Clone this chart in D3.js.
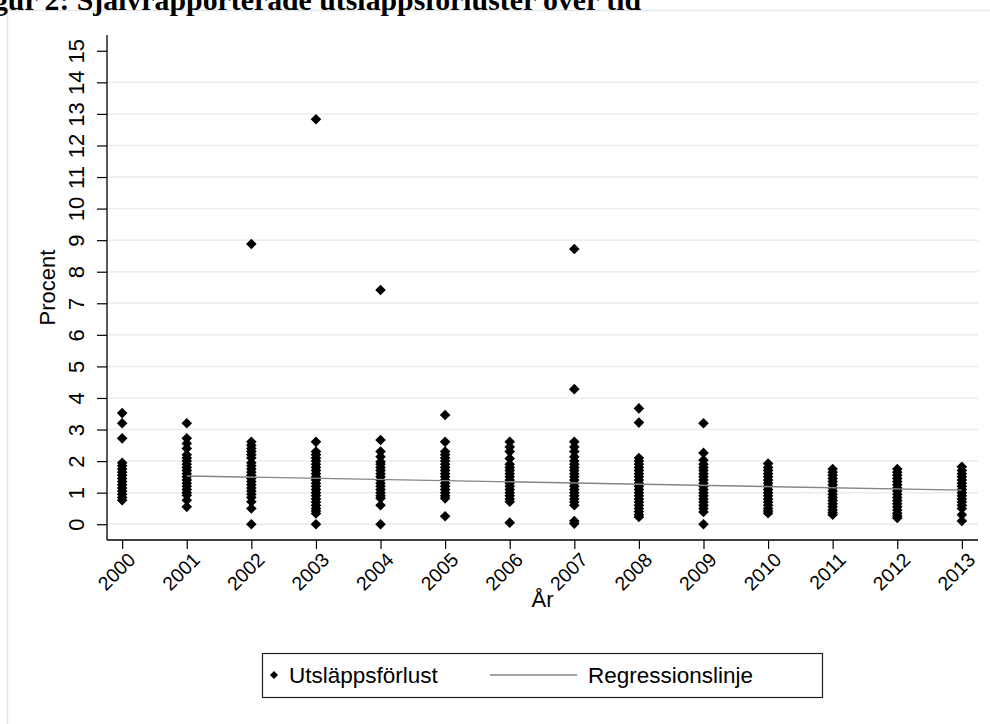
<!DOCTYPE html>
<html lang="sv">
<head>
<meta charset="UTF-8">
<title>Självrapporterade utsläppsförluster över tid</title>
<script src="https://d3js.org/d3.v7.min.js"></script>
<style>
  body { margin: 0; background: #fff; }
  svg { display: block; }
  text { font-family: "Liberation Sans", Arial, sans-serif; fill: #000; }
  .title { font-family: "Liberation Serif", "Times New Roman", serif; font-weight: bold; }
</style>
</head>
<body>
<div id="chart"></div>
<script>
  // values (percent), one list per year
  const years = [2000, 2001, 2002, 2003, 2004, 2005, 2006, 2007, 2008, 2009, 2010, 2011, 2012, 2013];
  const y2000 = [3.52, 3.2, 2.72, 1.95, 1.85, 1.75, 1.65, 1.55, 1.45, 1.35, 1.25, 1.15, 1.05, 0.95, 0.85, 0.76];
  const y2001 = [3.2, 2.72, 2.56, 2.4, 2.2, 2.1, 2.0, 1.9, 1.8, 1.7, 1.6, 1.5, 1.4, 1.3, 1.2, 1.1, 1.0, 0.92, 0.76, 0.55];
  const y2002 = [8.88, 2.61, 2.5, 2.4, 2.3, 2.2, 2.1, 1.95, 1.85, 1.75, 1.65, 1.55, 1.45, 1.35, 1.25, 1.15, 1.05, 0.95, 0.85, 0.71, 0.5, 0.0];
  const y2003 = [12.83, 2.61, 2.3, 2.2, 2.1, 2.0, 1.9, 1.8, 1.7, 1.6, 1.5, 1.4, 1.3, 1.2, 1.1, 1.0, 0.9, 0.8, 0.7, 0.6, 0.5, 0.42, 0.34, 0.0];
  const y2004 = [7.42, 2.67, 2.3, 2.14, 1.98, 1.9, 1.8, 1.7, 1.6, 1.5, 1.4, 1.3, 1.2, 1.1, 1.0, 0.9, 0.82, 0.6, 0.0];
  const y2005 = [3.46, 2.61, 2.3, 2.2, 2.1, 2.0, 1.9, 1.8, 1.7, 1.6, 1.5, 1.4, 1.3, 1.2, 1.1, 1.0, 0.9, 0.82, 0.25];
  const y2006 = [2.61, 2.45, 2.3, 2.08, 1.9, 1.8, 1.7, 1.6, 1.5, 1.4, 1.3, 1.2, 1.1, 1.0, 0.9, 0.8, 0.71, 0.05];
  const y2007 = [8.72, 4.28, 2.61, 2.45, 2.3, 2.14, 2.0, 1.9, 1.8, 1.7, 1.6, 1.5, 1.4, 1.3, 1.2, 1.1, 1.0, 0.9, 0.8, 0.7, 0.6, 0.1, 0.02];
  const y2008 = [3.67, 3.22, 2.1, 2.0, 1.9, 1.8, 1.7, 1.6, 1.5, 1.4, 1.3, 1.2, 1.1, 1.0, 0.9, 0.8, 0.7, 0.6, 0.5, 0.4, 0.3, 0.23];
  const y2009 = [3.2, 2.26, 2.03, 1.9, 1.8, 1.7, 1.6, 1.5, 1.4, 1.3, 1.2, 1.1, 1.0, 0.9, 0.8, 0.7, 0.6, 0.5, 0.39, 0.0];
  const y2010 = [1.92, 1.8, 1.7, 1.6, 1.5, 1.4, 1.3, 1.2, 1.1, 1.0, 0.9, 0.8, 0.7, 0.6, 0.5, 0.42, 0.35];
  const y2011 = [1.75, 1.65, 1.55, 1.45, 1.35, 1.25, 1.15, 1.05, 0.95, 0.85, 0.75, 0.65, 0.55, 0.45, 0.37, 0.3];
  const y2012 = [1.75, 1.65, 1.55, 1.45, 1.35, 1.25, 1.15, 1.05, 0.95, 0.85, 0.75, 0.65, 0.55, 0.45, 0.35, 0.27, 0.2];
  const y2013 = [1.82, 1.7, 1.6, 1.5, 1.4, 1.3, 1.2, 1.1, 1.0, 0.9, 0.8, 0.7, 0.6, 0.5, 0.3, 0.1];
  const perYear = [y2000, y2001, y2002, y2003, y2004, y2005, y2006, y2007, y2008, y2009, y2010, y2011, y2012, y2013];

  // fitted regression line (ends)
  const fitYears = [2001, 2013];
  const fitValues = [1.53, 1.08];

  const yTicks = d3.range(0, 16);
  const legendLabels = ["Utsläppsförlust", "Regressionslinje"];

  const points = [];
  years.forEach((yr, i) => perYear[i].forEach(v => points.push({ year: yr, value: v })));

  const width = 990, height = 724;
  const svg = d3.select("#chart").append("svg")
      .attr("width", width)
      .attr("height", height);

  // page edge of the document the chart was pasted into
  svg.append("line").attr("x1", 8).attr("x2", width).attr("y1", 10.5).attr("y2", 10.5)
      .attr("stroke", "#dfe7eb").attr("stroke-width", 1.5);
  svg.append("line").attr("x1", 7.5).attr("x2", 7.5).attr("y1", 10).attr("y2", height)
      .attr("stroke", "#dfe7eb").attr("stroke-width", 1.5);

  // heading, cut off at the top like in the source
  svg.append("text")
      .attr("class", "title")
      .attr("x", 641)
      .attr("y", 10)
      .attr("text-anchor", "end")
      .style("font-size", "29.8px")
      .text("Figur 2: Självrapporterade utsläppsförluster över tid");

  const pLeft = 107, pRight = 978, pTop = 35, pBottom = 540;

  const x = d3.scaleLinear().domain([1999.765, 2013.25]).range([pLeft, pRight]);
  const y = d3.scaleLinear().domain([-0.5, 15.5]).range([pBottom, pTop]);

  // grid
  svg.append("g")
    .selectAll("line")
    .data(yTicks.filter(t => t < 15))
    .join("line")
      .attr("x1", pLeft).attr("x2", pRight)
      .attr("y1", d => y(d)).attr("y2", d => y(d))
      .attr("stroke", "#e6eef2")
      .attr("stroke-width", 1.5);

  // y axis
  const yAxis = svg.append("g")
      .attr("transform", `translate(${pLeft},0)`)
      .call(d3.axisLeft(y).tickValues(yTicks).tickSize(10).tickFormat(d3.format("d")));
  yAxis.select(".domain").attr("d", `M0,${pTop}V${pBottom}`).attr("stroke", "#000").attr("stroke-width", 1.3);
  yAxis.selectAll(".tick line").attr("stroke", "#000").attr("stroke-width", 1.2);
  yAxis.selectAll(".tick text")
      .attr("x", null).attr("dy", null)
      .attr("transform", "translate(-23,0) rotate(-90)")
      .attr("text-anchor", "middle")
      .style("font-size", "22px");

  // x axis
  const xAxis = svg.append("g")
      .attr("transform", `translate(0,${pBottom})`)
      .call(d3.axisBottom(x).tickValues(years).tickSize(9).tickFormat(d3.format("d")));
  xAxis.select(".domain").attr("d", `M${pLeft},0H${pRight}`).attr("stroke", "#000").attr("stroke-width", 1.3);
  xAxis.selectAll(".tick line").attr("stroke", "#000").attr("stroke-width", 1.2);
  xAxis.selectAll(".tick text")
      .attr("y", null).attr("dy", null)
      .attr("transform", "translate(14,21) rotate(-45)")
      .attr("text-anchor", "end")
      .style("font-size", "19.5px");

  svg.append("text")
      .attr("transform", `translate(${(pLeft + pRight) / 2},607)`)
      .attr("text-anchor", "middle")
      .style("font-size", "22px")
      .text("År");

  svg.append("text")
      .attr("transform", `translate(55,${(pTop + pBottom) / 2}) rotate(-90)`)
      .attr("text-anchor", "middle")
      .style("font-size", "22px")
      .text("Procent");

  // points
  const diamond = d3.symbol().type(d3.symbolSquare).size(56);
  svg.append("g")
    .selectAll("path")
    .data(points)
    .join("path")
      .attr("d", diamond)
      .attr("transform", d => `translate(${x(d.year)},${y(d.value)}) rotate(45)`)
      .attr("fill", "#000");

  // regression line
  const fit = fitYears.map((yr, i) => [yr, fitValues[i]]);
  svg.append("path")
      .datum(fit)
      .attr("d", d3.line().x(d => x(d[0])).y(d => y(d[1])))
      .attr("fill", "none")
      .attr("stroke", "#858585")
      .attr("stroke-width", 1.4);

  // legend
  const lg = svg.append("g");
  lg.append("rect")
      .attr("x", 262.5).attr("y", 653.5).attr("width", 560).attr("height", 44)
      .attr("fill", "#fff").attr("stroke", "#222").attr("stroke-width", 1.2);
  lg.append("path")
      .attr("d", d3.symbol().type(d3.symbolSquare).size(32))
      .attr("transform", "translate(274,675) rotate(45)")
      .attr("fill", "#000");
  lg.append("text").attr("x", 289).attr("y", 683).style("font-size", "22.5px").text(legendLabels[0]);
  lg.append("line")
      .attr("x1", 490).attr("x2", 577).attr("y1", 675).attr("y2", 675)
      .attr("stroke", "#858585").attr("stroke-width", 1.4);
  lg.append("text").attr("x", 588).attr("y", 683).style("font-size", "22.5px").text(legendLabels[1]);
</script>
</body>
</html>
